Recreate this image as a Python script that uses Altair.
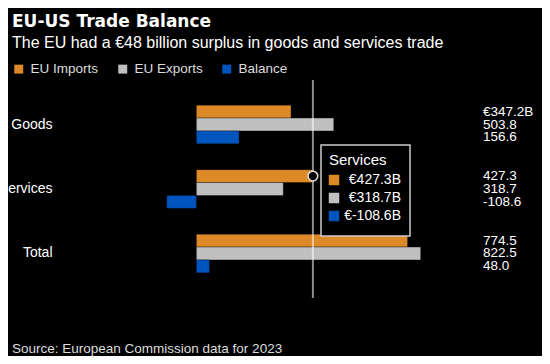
import altair as alt
import pandas as pd

categories = ["Goods", "Services", "Total"]
series = ["EU Imports", "EU Exports", "Balance"]
imports = [347.2, 427.3, 774.5]
exports = [503.8, 318.7, 822.5]
balance = [156.6, -108.6, 48.0]
colors = ["#DE8928", "#C0C0C0", "#0054BE"]

FONT = "Liberation Sans"

rows = []
for i, cat in enumerate(categories):
    for s, vals in zip(series, [imports, exports, balance]):
        v = vals[i]
        label = f"€{v:.1f}B" if (i == 0 and s == series[0]) else f"{v:.1f}"
        rows.append({"category": cat, "series": s, "value": v, "label": label})
df = pd.DataFrame(rows)

xscale = alt.Scale(domain=[-500, 1051], nice=False, zero=False)
yenc = alt.Y("category:N", sort=categories,
             scale=alt.Scale(paddingInner=0.4, paddingOuter=0.39),
             axis=alt.Axis(title=None, labelFontSize=14, labelColor="#ffffff",
                           labelFont=FONT, domain=False, ticks=False,
                           labelPadding=8, grid=False))
yoff = alt.YOffset("series:N", sort=series,
                   scale=alt.Scale(paddingInner=0, paddingOuter=0))

bars = alt.Chart(df).mark_bar(stroke="black", strokeOpacity=0.35, strokeWidth=1).encode(
    x=alt.X("value:Q", scale=xscale, axis=None),
    y=yenc,
    yOffset=yoff,
    color=alt.Color("series:N", sort=series,
                    scale=alt.Scale(domain=series, range=colors),
                    legend=alt.Legend(title=None, orient="none", legendX=-48, legendY=-18,
                                      direction="horizontal", symbolType="square",
                                      symbolSize=80, symbolStrokeWidth=0,
                                      labelFontSize=13.5, labelColor="#dddddd",
                                      labelFont=FONT, columnPadding=17,
                                      labelOffset=5, padding=0)),
)

labels = alt.Chart(df).mark_text(align="left", baseline="middle", fontSize=13.5,
                                 color="#ffffff", font=FONT).encode(
    x=alt.value(423),
    y=alt.Y("category:N", sort=categories),
    yOffset=alt.YOffset("series:N", sort=series),
    text="label:N",
)

rule = alt.Chart(pd.DataFrame({"value": [imports[1]]})).mark_rule(
    color="white", opacity=0.55, strokeWidth=2).encode(
    x=alt.X("value:Q", axis=None))

hover = df[(df.category == "Services") & (df.series == "EU Imports")]
point = alt.Chart(hover).mark_point(filled=False, fill="black", fillOpacity=1,
                                    stroke="#dddddd", strokeWidth=1.5, size=95,
                                    opacity=1).encode(
    x=alt.X("value:Q", axis=None),
    y=alt.Y("category:N", sort=categories),
    yOffset=alt.YOffset("series:N", sort=series),
)

box = alt.Chart(pd.DataFrame({"a": [0]})).mark_rect(
    fill="black", stroke="#cccccc", strokeWidth=1.5).encode(
    x=alt.value(261), x2=alt.value(350), y=alt.value(65), y2=alt.value(156))

box_title = alt.Chart(pd.DataFrame({"t": ["Services"]})).mark_text(
    align="left", baseline="alphabetic", fontSize=15, color="#ffffff", font=FONT).encode(
    x=alt.value(269), y=alt.value(85), text="t:N")

tip_layers = []
services_vals = [imports[1], exports[1], balance[1]]
for k, (s, v, c) in enumerate(zip(series, services_vals, colors)):
    yy = 100 + 18 * k
    d = pd.DataFrame({"t": [f"€{v:.1f}B"]})
    tip_layers.append(alt.Chart(d).mark_square(size=110, color=c, opacity=1).encode(
        x=alt.value(274), y=alt.value(yy)))
    tip_layers.append(alt.Chart(d).mark_text(align="right", baseline="middle", fontSize=14,
                                             color="#ffffff", font=FONT).encode(
        x=alt.value(341), y=alt.value(yy), text="t:N"))

source = alt.Chart(pd.DataFrame({"t": ["Source: European Commission data for 2023"]})).mark_text(
    align="left", baseline="alphabetic", fontSize=13.5, color="#dddddd", font=FONT).encode(
    x=alt.value(-48), y=alt.value(273), text="t:N")

chart = alt.layer(bars, labels, rule, point, box, box_title, *tip_layers, source).properties(
    width=423, height=218,
    autosize=alt.AutoSizeParams(type="none"),
    padding={"left": 52, "top": 72, "right": 59, "bottom": 58},
    title=alt.Title(text="EU-US Trade Balance",
                    subtitle="The EU had a €48 billion surplus in goods and services trade",
                    anchor="start", frame="group", dx=-48, offset=10,
                    font="DejaVu Sans", fontSize=17, fontWeight="bold", color="#ffffff",
                    subtitleFont=FONT, subtitleFontSize=16, subtitleColor="#ffffff",
                    subtitlePadding=4),
).configure(background="black", font=FONT).configure_view(stroke="transparent")

chart.save("out.html", embed_options={"renderer": "svg", "actions": False})
